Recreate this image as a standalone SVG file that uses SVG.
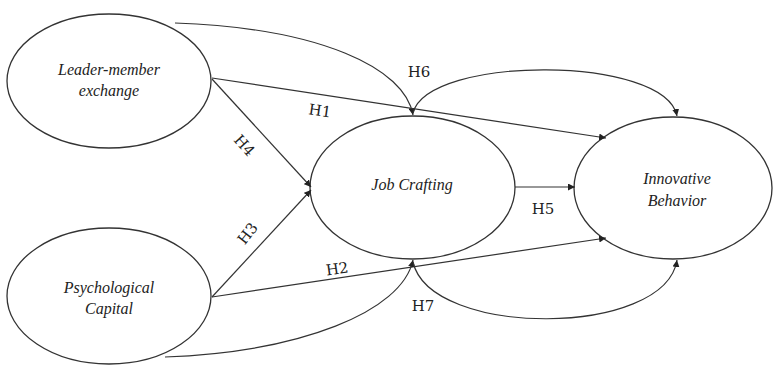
<svg xmlns="http://www.w3.org/2000/svg" width="774" height="369" viewBox="0 0 774 369">
<style>
.node{fill:#fff;stroke:#333;stroke-width:1.3}
.lbl{font-family:'Liberation Serif',serif;font-style:italic;font-size:16px;fill:#222;text-anchor:middle}
.h{font-family:'DejaVu Serif',serif;font-size:15px;fill:#222;text-anchor:middle}
.c{fill:none;stroke:#333;stroke-width:1.2;marker-end:url(#ar)}
</style>
<defs>
<marker id="ar" viewBox="0 0 10 10" refX="10" refY="5" markerWidth="7" markerHeight="7" markerUnits="userSpaceOnUse" orient="auto">
<path d="M0,0 L10,5 L0,10 z" fill="#222"/>
</marker>
</defs>
<rect width="774" height="369" fill="#fff"/>
<g id="lmx"><ellipse class="node" cx="109" cy="81" rx="102" ry="67"/><text class="lbl" x="109" y="75">Leader-member</text><text class="lbl" x="109" y="96">exchange</text></g>
<g id="psycap"><ellipse class="node" cx="109" cy="296" rx="102" ry="68"/><text class="lbl" x="109" y="293">Psychological</text><text class="lbl" x="109" y="314">Capital</text></g>
<g id="jc"><ellipse class="node" cx="412.5" cy="187.5" rx="102.5" ry="71.5"/><text class="lbl" x="412" y="190">Job Crafting</text></g>
<g id="ib"><ellipse class="node" cx="673" cy="188" rx="99" ry="71"/><text class="lbl" x="677" y="184">Innovative</text><text class="lbl" x="677" y="206">Behavior</text></g>
<g id="connectors">
<path class="c" d="M175,23 C320,28 405,68 413,115"/>
<path class="c" d="M212,78 L606,138"/>
<path class="c" d="M212,79 L311,187"/>
<path class="c" d="M212,297 L311,190"/>
<path class="c" d="M212,297 L606,238"/>
<path class="c" d="M165,357 C300,352 402,312 413,260"/>
<path class="c" d="M413,113 C428,55 665,55 677,116"/>
<path class="c" d="M413,262 C430,338 665,338 677,260"/>
<path class="c" d="M515,187 L575,187"/>
<text class="h" x="419" y="77">H6</text>
<text class="h" x="320" y="116" transform="rotate(8 320 110)">H1</text>
<text class="h" x="245" y="151" transform="rotate(48 245 145)">H4</text>
<text class="h" x="247" y="239" transform="rotate(-52 247 233)">H3</text>
<text class="h" x="337" y="274" transform="rotate(-8 337 268)">H2</text>
<text class="h" x="543" y="214">H5</text>
<text class="h" x="423" y="311">H7</text>
</g>
</svg>
